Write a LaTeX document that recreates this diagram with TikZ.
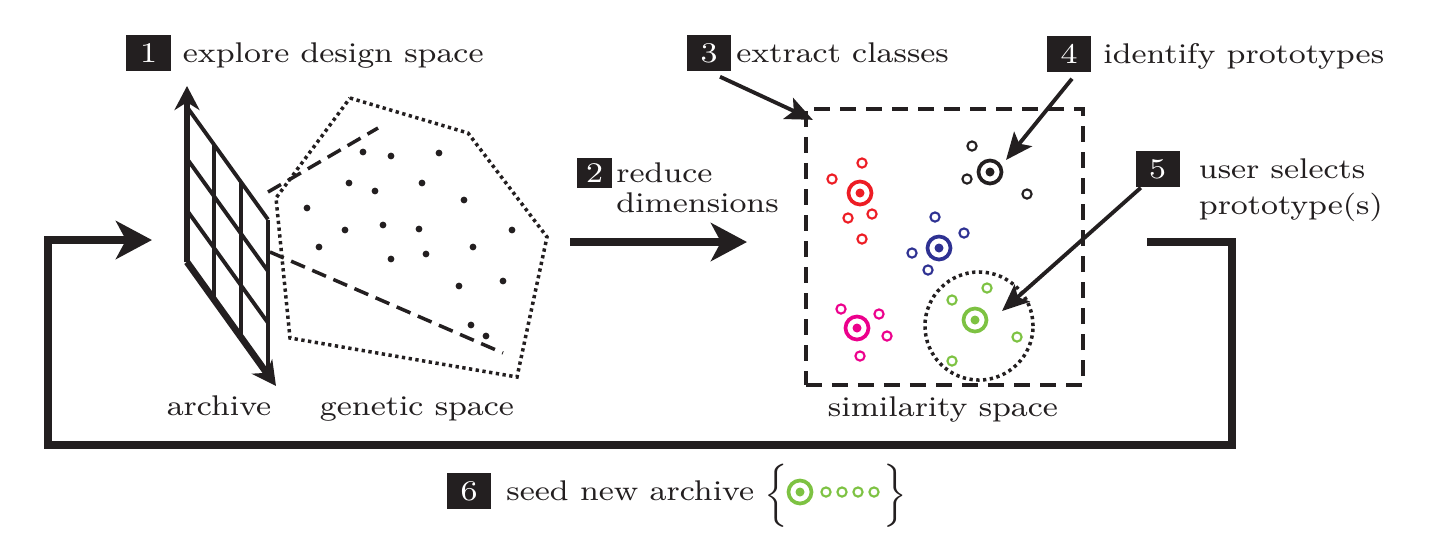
\documentclass[tikz,border=0pt]{standalone}
\usetikzlibrary{arrows.meta,positioning}
\definecolor{inkblack}{HTML}{231F20}
\definecolor{protored}{HTML}{ED1C24}
\definecolor{protoblue}{HTML}{2E3192}
\definecolor{protomagenta}{HTML}{EC008C}
\definecolor{protogreen}{HTML}{7DC242}
\font\lblfont="[lmroman8-regular]:mapping=tex-text;extend=1.12" at 8.1pt

\begin{document}
\begin{tikzpicture}[
    x=0.01cm, y=-0.01cm,
    badge/.style={rectangle, fill=inkblack, text=white, font=\lblfont, inner sep=0pt, minimum width=0.44cm, minimum height=0.36cm},
    lbl/.style={font=\lblfont, text=inkblack, inner sep=0pt, align=left},
    bigarrow/.style={-{Stealth[length=0.36cm, width=0.38cm, inset=0.1cm]}, line width=2.3pt, draw=inkblack},
    callout/.style={-{Stealth[length=0.27cm, width=0.23cm, inset=0.06cm]}, line width=1.1pt, draw=inkblack},
    axis/.style={-{Stealth[length=0.24cm, width=0.25cm]}, line width=1.9pt, draw=inkblack},
    gridline/.style={line width=1.1pt, draw=inkblack},
    proj/.style={dash pattern=on 0.15cm off 0.08cm, line width=1pt, draw=inkblack},
    hull/.style={dash pattern=on 0.033cm off 0.035cm, line width=1pt, draw=inkblack},
    proto/.style={circle, draw=#1, line width=1.05pt, minimum size=0.23cm, inner sep=0pt,
        path picture={\fill[#1] (path picture bounding box.center) circle (0.045cm);}},
    member/.style={circle, draw=#1, line width=0.6pt, minimum size=0.092cm, inner sep=0pt}
]
\useasboundingbox (0,0) rectangle (1433,541);

% --- ARCHIVE (grid) ---
\foreach \i in {0,...,3}
    \draw[gridline] (187+27*\i, 107+37.5*\i) -- ++(0,155);
\foreach \j in {0,...,3}
    \draw[gridline] (187, 107+51.667*\j) -- ++(81,112.5);
\draw[axis] (187,262) -- (187,86);
\draw[axis] (187,262) -- (276,386);

% --- GENETIC SPACE ---
\draw[proj] (268,192) -- (378,128);
\draw[proj] (270,252) -- (503,353);
\draw[hull] (350,98) -- (468,133) -- (547,237) -- (517,377) -- (290,338) -- (276,198) -- cycle;
\foreach \x/\y in {363/152, 391/156, 439/153, 349/183, 375/191, 422/183, 464/200,
    307/208, 345/230, 383/225, 419/229, 512/230, 319/247, 391/259, 426/254,
    473/247, 459/286, 503/281, 471/325, 486/336}
    \fill[inkblack] (\x,\y) circle (0.034cm);

\node[lbl, anchor=base] (larchive) at (219,415) {archive};
\node[lbl, anchor=base] (lgenetic) at (417,415) {genetic space};

% --- SIMILARITY SPACE ---
\node[draw=inkblack, dash pattern=on 0.16cm off 0.1cm, line width=1.2pt, minimum width=2.77cm, minimum height=2.76cm, inner sep=0pt] (sim) at (944.5,247) {};
\node[lbl, anchor=base] (lsim) at (943,416) {similarity space};

\node[circle, hull, minimum size=1.08cm, inner sep=0pt] (sel) at (979,326) {};

\node[proto=protored] (pred) at (860,193) {};
\node[proto=inkblack] (pblack) at (990,172) {};
\node[proto=protoblue] (pblue) at (939,248) {};
\node[proto=protomagenta] (pmag) at (857,328) {};
\node[proto=protogreen] (pgreen) at (975,320) {};

\foreach[count=\i] \c/\x/\y in {protored/862/163, protored/832/179, protored/848/218,
    protored/872/214, protored/862/239, inkblack/972/146, inkblack/967/179,
    inkblack/1027/194, protoblue/935/217, protoblue/964/233, protoblue/912/253,
    protoblue/928/270, protomagenta/841/309, protomagenta/879/314,
    protomagenta/887/336, protomagenta/860/356, protogreen/952/300,
    protogreen/987/288, protogreen/1017/337, protogreen/952/361}
    \node[member=\c] (m\i) at (\x,\y) {};

% --- STEPS ---
\node[badge] (b1) at (148.5,53) {1};
\node[lbl, base right=0.11cm of b1] (l1) {explore design space};
\node[badge, minimum width=0.35cm, minimum height=0.30cm] (b2) at (594.5,173) {2};
\node[lbl, base right=0.03cm of b2, yshift=-8.5pt] (l2) {reduce\\[-3.5pt]dimensions};
\node[badge] (b3) at (709,53) {3};
\node[lbl, base right=0.04cm of b3] (l3) {extract classes};
\node[badge] (b4) at (1069,54) {4};
\node[lbl, base right=0.11cm of b4] (l4) {identify prototypes};
\node[badge] (b5) at (1157.5,169) {5};
\node[lbl, base right=0.18cm of b5, yshift=-10.2pt] (l5) {user selects\\[-1.8pt]prototype(s)};
\node[badge] (b6) at (469,491) {6};
\node[lbl, base right=0.14cm of b6] (l6) {seed new archive};

% --- SEED LEGEND ---
\node[lbl, anchor=center] (lbrace) at (776,496) {$\Big\{$};
\node[proto=protogreen] (seed) at (800,492) {};
\foreach[count=\i] \x in {826,842,858,874}
    \node[member=protogreen] (s\i) at (\x,492) {};
\node[lbl, anchor=center] (rbrace) at (895,496) {$\Big\}$};

% --- ARROWS ---
\coordinate (a2s) at (570,242);
\coordinate (a2e) at (747,242);
\draw[bigarrow] (a2s) -- (a2e);

\coordinate (ls) at (1147,242);
\coordinate (le) at (152,240);
\draw[bigarrow] (ls) -| (1232,445) -- (48,445) |- (le);

\draw[callout] ([xshift=0.11cm,yshift=-0.05cm]b3.south) -- ([xshift=0.09cm,yshift=-0.13cm]sim.north west);
\draw[callout] ([xshift=0.03cm,yshift=-0.06cm]b4.south) -- ([xshift=0.16cm,yshift=0.12cm]pblack.center);
\draw[callout] ([xshift=0.06cm]b5.south west) -- ([xshift=0.27cm,yshift=0.09cm]pgreen.center);

\end{tikzpicture}
\end{document}
